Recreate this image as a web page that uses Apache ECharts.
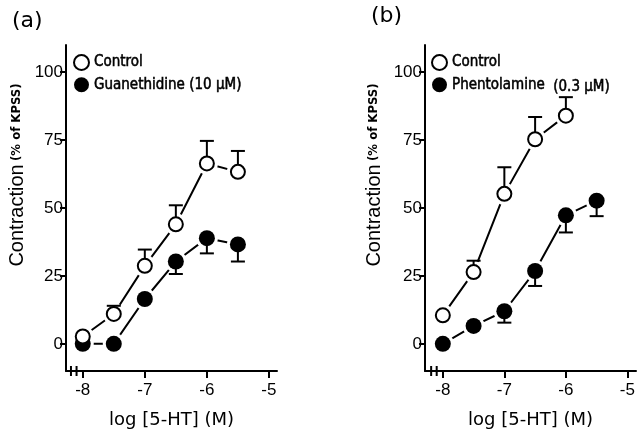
<!DOCTYPE html>
<html>
<head>
<meta charset="utf-8">
<script src="https://cdn.jsdelivr.net/npm/echarts@6/dist/echarts.min.js"></script>
<style>
  html, body { margin: 0; padding: 0; background: #fff; }
  #chart { width: 640px; height: 434px; }
</style>
</head>
<body>
<div id="chart"></div>
<script>
// log [5-HT] (M)
const dosesA = [-8, -7.5, -7, -6.5, -6, -5.5];
const dosesB = [-8, -7.5, -7, -6.5, -6, -5.5];
const dosesCtrlB = [-8, -7.5, -7, -6.5, -6];

// panel (a)
const controlA = [2.7, 11, 28.7, 44, 66.4, 63.3];
const controlAErr = [0, 3, 6, 7, 8.3, 7.7];
const guanA = [0, 0, 16.5, 30.3, 38.9, 36.6];
const guanAErr = [0, 0, 0, 4.6, 5.6, 6.3];

// panel (b)
const controlB = [10.5, 26.4, 55.2, 75.3, 84];
const controlBErr = [0, 4.2, 9.8, 8.2, 6.8];
const phenB = [0, 6.6, 12, 26.8, 47.3, 52.7];
const phenBErr = [0, 0, 4.2, 5.5, 6.3, 5.7];

const xTicks = [-8, -7, -6, -5];
const yTicks = [0, 25, 50, 75, 100];
const breakMarks = [-8.19, -8.1];

const chart = echarts.init(document.getElementById('chart'));

const tickFont = 'Liberation Sans';
const narrowFont = "'DejaVu Sans Condensed', sans-serif";

function pairs(xs, ys) {
    return xs.map((x, i) => [x, ys[i]]);
}
function errPairs(xs, ys, es) {
    let out = [];
    xs.forEach((x, i) => { if (es[i] > 0) out.push([x, ys[i], es[i]]); });
    return out;
}

function xAxisFor(idx, min, max) {
    return {
        type: 'value', gridIndex: idx, min: min, max: max,
        splitLine: { show: false },
        axisLine: { show: true, onZero: false, lineStyle: { color: '#000', width: 2 } },
        axisTick: { show: true, length: 7, customValues: xTicks, lineStyle: { color: '#000', width: 2 } },
        axisLabel: { customValues: xTicks, color: '#000', fontSize: 17, fontFamily: tickFont, margin: 11 },
        name: 'log [5-HT] (M)', nameLocation: 'middle', nameGap: 40,
        nameTextStyle: { color: '#000', fontSize: 18, fontFamily: 'DejaVu Sans' }
    };
}
function yAxisFor(idx) {
    return {
        type: 'value', gridIndex: idx, min: -10, max: 110,
        splitLine: { show: false },
        axisLine: { show: true, onZero: false, lineStyle: { color: '#000', width: 2 } },
        axisTick: { show: true, length: 6, customValues: yTicks, lineStyle: { color: '#000', width: 2 } },
        axisLabel: { customValues: yTicks, color: '#000', fontSize: 17, fontFamily: tickFont, margin: 3 }
    };
}

function lineSeries(name, idx, data) {
    return {
        type: 'line', name: name + '-line', xAxisIndex: idx, yAxisIndex: idx,
        data: data, symbol: 'none', z: 1, silent: true,
        lineStyle: { color: '#000', width: 2 }
    };
}
function haloSeries(idx, data) {
    return {
        type: 'scatter', xAxisIndex: idx, yAxisIndex: idx, data: data,
        symbolSize: 22, z: 2, silent: true,
        itemStyle: { color: '#fff', opacity: 1 }
    };
}
function errSeries(idx, data, dir) {
    return {
        type: 'custom', xAxisIndex: idx, yAxisIndex: idx, data: data, z: 3, silent: true,
        renderItem: function (params, api) {
            const x = api.value(0), y = api.value(1), e = api.value(2);
            const p0 = api.coord([x, y]);
            const p1 = api.coord([x, y + dir * e]);
            const w = 7;
            return {
                type: 'group',
                children: [
                    { type: 'line', shape: { x1: p0[0], y1: p0[1], x2: p1[0], y2: p1[1] }, style: { stroke: '#000', lineWidth: 2 } },
                    { type: 'line', shape: { x1: p1[0] - w, y1: p1[1], x2: p1[0] + w, y2: p1[1] }, style: { stroke: '#000', lineWidth: 2 } }
                ]
            };
        }
    };
}
function markerSeries(name, idx, data, filled) {
    return {
        type: 'scatter', name: name, xAxisIndex: idx, yAxisIndex: idx, data: data,
        symbol: 'circle', symbolSize: filled ? 16 : 14, z: 4,
        itemStyle: filled
            ? { color: '#000', borderColor: '#000', borderWidth: 0, opacity: 1 }
            : { color: '#fff', borderColor: '#000', borderWidth: 2, opacity: 1 }
    };
}
function breakSeries(idx) {
    return {
        type: 'custom', xAxisIndex: idx, yAxisIndex: idx, z: 5, silent: true,
        data: breakMarks.map(x => [x, -10]),
        renderItem: function (params, api) {
            const p = api.coord([api.value(0), api.value(1)]);
            return { type: 'line', shape: { x1: p[0], y1: p[1] - 5, x2: p[0], y2: p[1] + 5 }, style: { stroke: '#000', lineWidth: 2 } };
        }
    };
}
function yName(x) {
    return {
        type: 'text', x: x, y: 175, rotation: Math.PI / 2,
        style: {
            text: '{a|Contraction} {b|(% of KPSS)}', align: 'center', verticalAlign: 'middle',
            rich: {
                a: { fontSize: 20, fontFamily: tickFont, fill: '#000' },
                b: { fontSize: 13, fontFamily: narrowFont, fontWeight: 'bold', fill: '#000' }
            }
        }
    };
}

const legendText = {
    color: '#000', fontSize: 15, fontFamily: narrowFont,
    textBorderColor: '#000', textBorderWidth: 0.5
};

chart.setOption({
    backgroundColor: '#fff',
    animation: false,
    grid: [
        { left: 66, top: 45, width: 211, height: 327 },
        { left: 425, top: 45, width: 211, height: 327 }
    ],
    xAxis: [xAxisFor(0, -8.27, -4.87), xAxisFor(1, -8.29, -4.86)],
    yAxis: [yAxisFor(0), yAxisFor(1)],
    legend: [
        {
            data: ['Control', 'Guanethidine (10 μM)'], orient: 'vertical', left: 68, top: 49,
            itemWidth: 15, itemHeight: 15, itemGap: 6, textStyle: legendText, selectedMode: false
        },
        {
            data: ['Control', 'Phentolamine'], orient: 'vertical', left: 426, top: 49,
            itemWidth: 15, itemHeight: 15, itemGap: 6, textStyle: legendText, selectedMode: false
        }
    ],
    graphic: [
        { type: 'text', left: 12, top: 10, style: { text: '(a)', fontSize: 22, fontFamily: 'DejaVu Sans', fill: '#000' } },
        { type: 'text', left: 371, top: 5, style: { text: '(b)', fontSize: 22, fontFamily: 'DejaVu Sans', fill: '#000' } },
        {
            type: 'text', left: 553, top: 79,
            style: { text: '(0.3 μM)', fontSize: 15, fontFamily: narrowFont, fill: '#000', stroke: '#000', lineWidth: 0.5 }
        },
        yName(17),
        yName(374)
    ],
    series: [
        lineSeries('Control', 0, pairs(dosesA, controlA)),
        lineSeries('Guanethidine', 0, pairs(dosesA, guanA)),
        haloSeries(0, pairs(dosesA, controlA)),
        haloSeries(0, pairs(dosesA, guanA)),
        errSeries(0, errPairs(dosesA, controlA, controlAErr), 1),
        errSeries(0, errPairs(dosesA, guanA, guanAErr), -1),
        markerSeries('Guanethidine (10 μM)', 0, pairs(dosesA, guanA), true),
        markerSeries('Control', 0, pairs(dosesA, controlA), false),
        breakSeries(0),

        lineSeries('Control', 1, pairs(dosesCtrlB, controlB)),
        lineSeries('Phentolamine', 1, pairs(dosesB, phenB)),
        haloSeries(1, pairs(dosesCtrlB, controlB)),
        haloSeries(1, pairs(dosesB, phenB)),
        errSeries(1, errPairs(dosesCtrlB, controlB, controlBErr), 1),
        errSeries(1, errPairs(dosesB, phenB, phenBErr), -1),
        markerSeries('Control', 1, pairs(dosesCtrlB, controlB), false),
        markerSeries('Phentolamine', 1, pairs(dosesB, phenB), true),
        breakSeries(1)
    ]
});
</script>
</body>
</html>
